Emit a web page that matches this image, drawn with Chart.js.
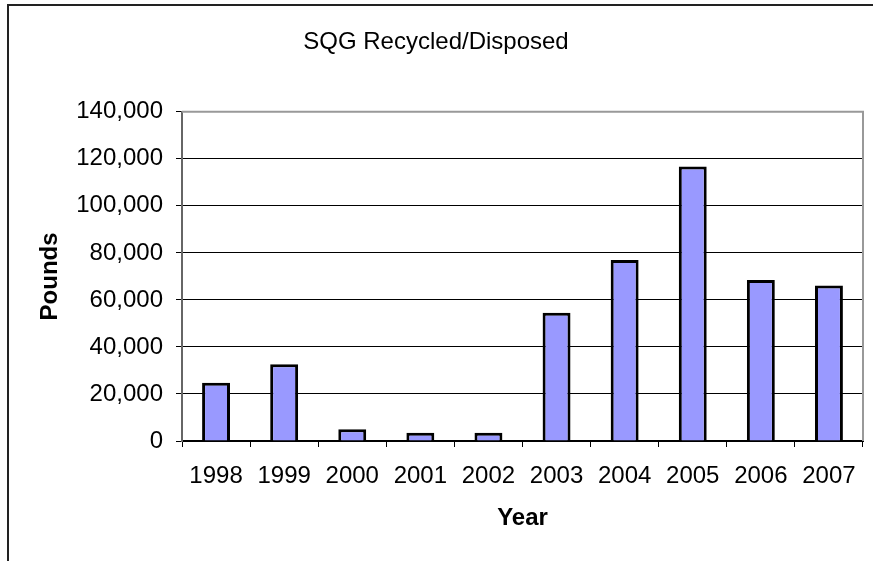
<!DOCTYPE html>
<html>
<head>
<meta charset="utf-8">
<script src="https://cdn.jsdelivr.net/npm/chart.js@4.4.0/dist/chart.umd.min.js"></script>
<style>
  html, body { margin: 0; padding: 0; background: #fff; overflow: hidden; }
  .frame {
    position: absolute; left: 7px; top: 4px;
    width: 872px; height: 560px;
    border-left: 2px solid #222; border-top: 2px solid #222;
  }
</style>
</head>
<body>
<div class="frame"><canvas id="chart" width="872" height="555"></canvas></div>
<script>
// chart data
const years = ['1998', '1999', '2000', '2001', '2002', '2003', '2004', '2005', '2006', '2007'];
const pounds = [24800, 32600, 5000, 3500, 3500, 54500, 77000, 116700, 68500, 66100];
const yTicks = [0, 20000, 40000, 60000, 80000, 100000, 120000, 140000];

const fontFamily = "'Liberation Sans', Arial, sans-serif";

// gray frame on the top and right of the plot area, like Excel
const plotFrame = {
    id: 'plotFrame',
    afterDraw(chart) {
        const a = chart.chartArea;
        const ctx = chart.ctx;
        ctx.save();
        ctx.strokeStyle = '#999999';
        ctx.lineWidth = 2;
        ctx.beginPath();
        ctx.moveTo(a.left, a.top);
        ctx.lineTo(a.right, a.top);
        ctx.lineTo(a.right, a.bottom);
        ctx.stroke();
        ctx.restore();
    }
};

new Chart(document.getElementById('chart'), {
    type: 'bar',
    data: {
        labels: years,
        datasets: [{
            label: 'Pounds',
            data: pounds,
            backgroundColor: '#9999FF',
            borderColor: '#000000',
            borderWidth: 3,
            barPercentage: 0.41,
            categoryPercentage: 1
        }]
    },
    options: {
        responsive: false,
        animation: false,
        layout: { padding: { left: 0, right: 18, top: 0, bottom: 0 } },
        plugins: {
            legend: { display: false },
            tooltip: { enabled: false },
            title: {
                display: true,
                text: 'SQG Recycled/Disposed',
                color: '#000',
                font: { family: fontFamily, size: 24, weight: 'normal' },
                padding: { top: 22, bottom: 55 }
            }
        },
        scales: {
            x: {
                grid: {
                    drawOnChartArea: false,
                    drawTicks: true,
                    tickLength: 6,
                    color: '#000',
                    offset: true
                },
                border: { color: '#000', width: 2 },
                ticks: {
                    color: '#000',
                    padding: 15,
                    maxRotation: 0,
                    font: { family: fontFamily, size: 24 }
                },
                title: {
                    display: true,
                    text: 'Year',
                    color: '#000',
                    font: { family: fontFamily, size: 24, weight: 'bold' },
                    padding: { top: 0, bottom: 28 }
                },
                afterFit(scale) { scale.height = 120; }
            },
            y: {
                min: 0,
                max: 140000,
                afterBuildTicks(scale) {
                    scale.ticks = yTicks.map(v => ({ value: v }));
                },
                grid: {
                    color: '#000',
                    lineWidth: 1,
                    tickLength: 6
                },
                border: { color: '#666', width: 2 },
                ticks: {
                    color: '#000',
                    padding: 13,
                    font: { family: fontFamily, size: 24 },
                    callback: v => v.toLocaleString('en-US')
                },
                title: {
                    display: true,
                    text: 'Pounds',
                    color: '#000',
                    font: { family: fontFamily, size: 24, weight: 'bold' },
                    padding: { top: 27, bottom: 0 }
                },
                afterFit(scale) { scale.width = 173; }
            }
        }
    },
    plugins: [plotFrame]
});
</script>
</body>
</html>
